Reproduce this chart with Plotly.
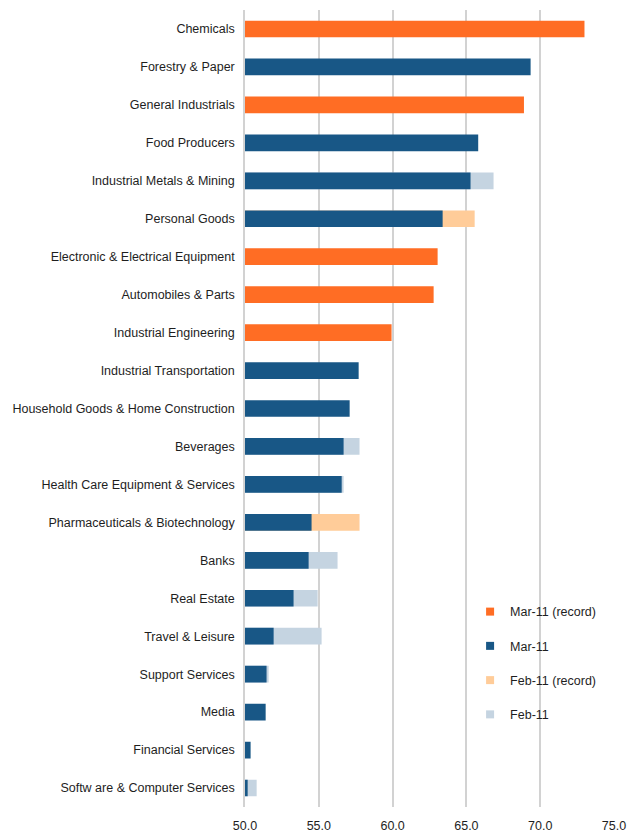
import plotly.graph_objects as go

categories = [
    "Chemicals", "Forestry & Paper", "General Industrials", "Food Producers",
    "Industrial Metals & Mining", "Personal Goods", "Electronic & Electrical Equipment",
    "Automobiles & Parts", "Industrial Engineering", "Industrial Transportation",
    "Household Goods & Home Construction", "Beverages", "Health Care Equipment & Services",
    "Pharmaceuticals & Biotechnology", "Banks", "Real Estate", "Travel & Leisure",
    "Support Services", "Media", "Financial Services", "Softw are & Computer Services",
]
mar_values = [73.0, 69.35, 68.9, 65.8, 65.28, 63.39, 63.05, 62.78, 59.93, 57.70,
              57.09, 56.68, 56.55, 54.51, 54.31, 53.29, 51.94, 51.46, 51.4, 50.38, 50.18]
mar_record = [True, False, True, False, False, False, True, True, True, False,
              False, False, False, False, False, False, False, False, False, False, False]
feb_values = [None, None, None, None, 66.84, 65.56, None, None, None, None,
              None, 57.76, 56.68, 57.76, 56.27, 54.92, 55.19, 51.6, None, None, 50.79]
feb_record = [False, False, False, False, False, True, False, False, False, False,
              False, False, False, True, False, False, False, False, False, False, False]
x_ticks = [50, 55, 60, 65, 70, 75]
x_tick_labels = ["50.0", "55.0", "60.0", "65.0", "70.0", "75.0"]

C_MAR_REC = "#FF6D24"
C_MAR = "#185786"
C_FEB_REC = "#FFCC99"
C_FEB = "#C5D4E1"

def pick(vals, flags, want):
    return [v if (v is not None and f == want) else None for v, f in zip(vals, flags)]

fig = go.Figure()
W = 0.44
series = [
    ("Feb-11", pick(feb_values, feb_record, False), C_FEB, 4),
    ("Feb-11 (record)", pick(feb_values, feb_record, True), C_FEB_REC, 3),
    ("Mar-11", pick(mar_values, mar_record, False), C_MAR, 2),
    ("Mar-11 (record)", pick(mar_values, mar_record, True), C_MAR_REC, 1),
]
for name, vals, color, rank in series:
    fig.add_trace(go.Bar(y=categories, x=vals, orientation="h", name=name,
                         marker_color=color, marker_line_width=0, width=W,
                         showlegend=False))
# legend entries (small square swatches)
for name, vals, color, rank in sorted(series, key=lambda s: s[3]):
    fig.add_trace(go.Scatter(x=[None], y=[None], mode="markers", name=name,
                             marker=dict(symbol="square", size=8, color=color),
                             legendrank=rank, legendgroup=name, showlegend=True))

fig.update_layout(
    width=643, height=834,
    margin=dict(l=245, r=29, t=10, b=27),
    barmode="overlay",
    plot_bgcolor="white", paper_bgcolor="white",
    font=dict(family="Liberation Sans, Arial, sans-serif", size=12.5, color="#1E1E1E"),
    showlegend=True,
    legend=dict(x=0.61, y=0.2635, xanchor="left", yanchor="top",
                traceorder="grouped", tracegroupgap=15,
                font=dict(size=12.5, color="#1E1E1E"), itemwidth=30,
                bgcolor="rgba(0,0,0,0)"),
    xaxis=dict(range=[50, 75], tickvals=x_ticks, ticktext=x_tick_labels,
               showgrid=True, gridcolor="#D2D2D2", gridwidth=1.5,
               zeroline=False, showline=False, automargin=False,
               ticks="outside", ticklen=7, tickcolor="rgba(0,0,0,0)"),
    yaxis=dict(categoryorder="array", categoryarray=categories[::-1],
               showline=True, linecolor="#D2D2D2", linewidth=1.5, automargin=False,
               showgrid=False, ticks="outside", ticklen=6, tickcolor="rgba(0,0,0,0)"),
)

fig.write_html("out.html")
